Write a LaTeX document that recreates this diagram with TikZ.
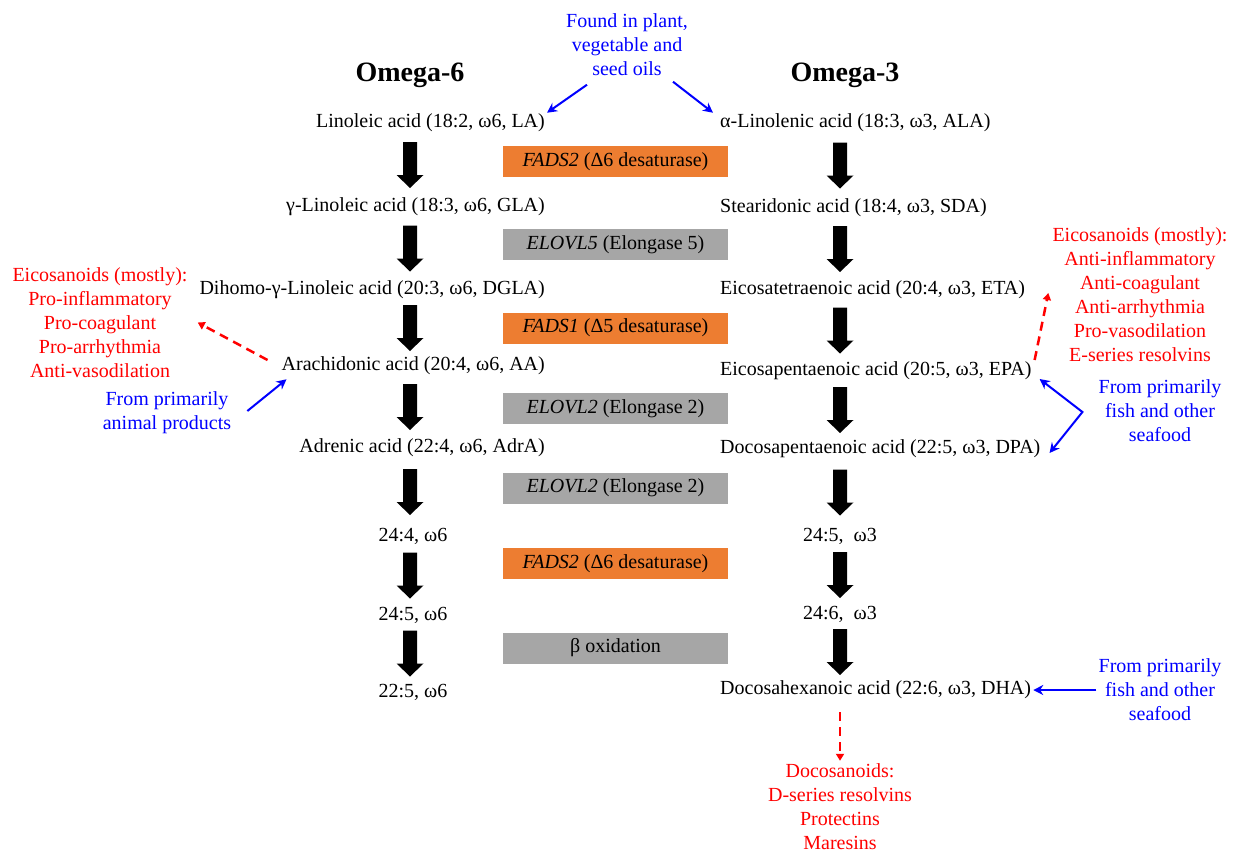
\documentclass[tikz,border=0pt]{standalone}
\usepackage{fontspec}
\setmainfont{Liberation Serif}
\usetikzlibrary{arrows.meta,calc}
\definecolor{boxorange}{HTML}{ED7D31}
\definecolor{boxgray}{HTML}{A6A6A6}
\definecolor{srcblue}{HTML}{0000FF}
\definecolor{effred}{HTML}{FF0000}
\begin{document}
\begin{tikzpicture}[x=1pt,y=-1pt,
  every node/.style={inner sep=0pt, font=\fontsize{20}{24}\selectfont},
  title/.style={font=\fontsize{28}{34}\selectfont\bfseries},
  enzyme/.style={minimum width=225pt, minimum height=31pt},
  orangebox/.style={enzyme, fill=boxorange},
  graybox/.style={enzyme, fill=boxgray},
  srctext/.style={text=srcblue, align=center},
  efftext/.style={text=effred, align=center},
  srcline/.style={draw=srcblue, line width=2pt},
  srcarrow/.style={srcline, -{Stealth[length=10pt,width=10pt]}},
  srcboth/.style={srcline, line join=miter, {Stealth[length=10pt,width=10pt]}-{Stealth[length=10pt,width=10pt]}},
  effarrow/.style={draw=effred, line width=2.5pt, dash pattern=on 9pt off 6pt, -{Triangle[length=7pt,width=8pt]}},
  blockarr/.pic={\fill (-7,-23) -- (7,-23) -- (7,10) -- (13.5,10) -- (0,23) -- (-13.5,10) -- (-7,10) -- cycle;}
]
\useasboundingbox (0,0) rectangle (1241,854);

\coordinate (colL) at (410,0);
\coordinate (colR) at (840,0);

% top source label and titles
\node[srctext] (found) at (627,44.5) {Found in plant,\\vegetable and\\seed oils};
\node[title] (om6) at (410,75) {Omega-6};
\node[title] (om3) at (845,75) {Omega-3};

% omega-6 column
\node[anchor=east] (la)   at (545,123) {Linoleic acid (18:2, ω6, LA)};
\node[anchor=east] (gla)  at (545,207) {γ-Linoleic acid (18:3, ω6, GLA)};
\node[anchor=east] (dgla) at (545,290) {Dihomo-γ-Linoleic acid (20:3, ω6, DGLA)};
\node[anchor=east] (aa)   at (545,366) {Arachidonic acid (20:4, ω6, AA)};
\node[anchor=east] (adra) at (545,448) {Adrenic acid (22:4, ω6, AdrA)};
\node (l244) at (413,536) {24:4, ω6};
\node (l245) at (413,615) {24:5, ω6};
\node (l225) at (413,692) {22:5, ω6};

% omega-3 column
\node[anchor=west] (ala) at (720,123) {α-Linolenic acid (18:3, ω3, ALA)};
\node[anchor=west] (sda) at (720,208) {Stearidonic acid (18:4, ω3, SDA)};
\node[anchor=west] (eta) at (720,290) {Eicosatetraenoic acid (20:4, ω3, ETA)};
\node[anchor=west] (epa) at (720,371) {Eicosapentaenoic acid (20:5, ω3, EPA)};
\node[anchor=west] (dpa) at (720,449) {Docosapentaenoic acid (22:5, ω3, DPA)};
\node (r245) at (840,536) {24:5,\ \ ω3};
\node (r246) at (840,614) {24:6,\ \ ω3};
\node[anchor=west] (dha) at (720,690) {Docosahexanoic acid (22:6, ω3, DHA)};

% enzyme boxes
\node[orangebox] (b1) at (615.5,161.5) {\textit{FADS2} (Δ6 desaturase)};
\node[graybox]   (b2) at (615.5,244.5) {\textit{ELOVL5} (Elongase 5)};
\node[orangebox] (b3) at (615.5,328)   {\textit{FADS1} (Δ5 desaturase)};
\node[graybox]   (b4) at (615.5,408.5) {\textit{ELOVL2} (Elongase 2)};
\node[graybox]   (b5) at (615.5,488)   {\textit{ELOVL2} (Elongase 2)};
\node[orangebox] (b6) at (615.5,563.5) {\textit{FADS2} (Δ6 desaturase)};
\node[graybox]   (b7) at (615.5,648)   {β oxidation};

% side labels
\node[efftext] (eico6) at (100,322.5) {Eicosanoids (mostly):\\Pro-inflammatory\\Pro-coagulant\\Pro-arrhythmia\\Anti-vasodilation};
\node[srctext] (animal) at (167,413) {From primarily\\animal products};
\node[efftext] (eico3) at (1140,295) {Eicosanoids (mostly):\\Anti-inflammatory\\Anti-coagulant\\Anti-arrhythmia\\Pro-vasodilation\\E-series resolvins};
\node[srctext] (fish1) at (1160,411) {From primarily\\fish and other\\seafood};
\node[srctext] (fish2) at (1160,690) {From primarily\\fish and other\\seafood};
\node[efftext] (docos) at (840,807) {Docosanoids:\\D-series resolvins\\Protectins\\Maresins};

% block arrows
\foreach \a/\b in {la/gla, gla/dgla, dgla/aa, aa/adra, adra/l244, l244/l245, l245/l225}
  \path ($(colL |- \a)!0.5!(colL |- \b)$) pic {blockarr};
\foreach \a/\b in {ala/sda, sda/eta, eta/epa, epa/dpa, dpa/r245, r245/r246, r246/dha}
  \path ($(colR |- \a)!0.5!(colR |- \b)$) pic {blockarr};

% source arrows
\draw[srcarrow] ([shift={(-40,9)}]found.south) -- ([shift={(2,-1)}]la.north east);
\draw[srcarrow] ([shift={(46,6)}]found.south) -- ([shift={(-7,-1)}]ala.north west);
\draw[srcarrow] ([shift={(16,-2)}]animal.east) -- ([shift={(5,4)}]aa.south west);
\coordinate (fv) at ([shift={(-16,1)}]fish1.west);
\draw[srcboth] ([shift={(8,8)}]epa.east) -- (fv) -- ([shift={(9,4)}]dpa.east);
\draw[srcarrow] ([shift={(-2,0)}]fish2.west) -- ([shift={(2,0)}]dha.east);

% product arrows
\draw[effarrow] ([shift={(-14,-6)}]aa.west) -- ([shift={(10,0)}]eico6.east);
\draw[effarrow] ([shift={(3,-11)}]epa.east) -- ([shift={(-4,-2)}]eico3.west);
\draw[effarrow] ($(colR |- dha)+(0,22)$) -- ([shift={(0,-3)}]docos.north);
\end{tikzpicture}
\end{document}
